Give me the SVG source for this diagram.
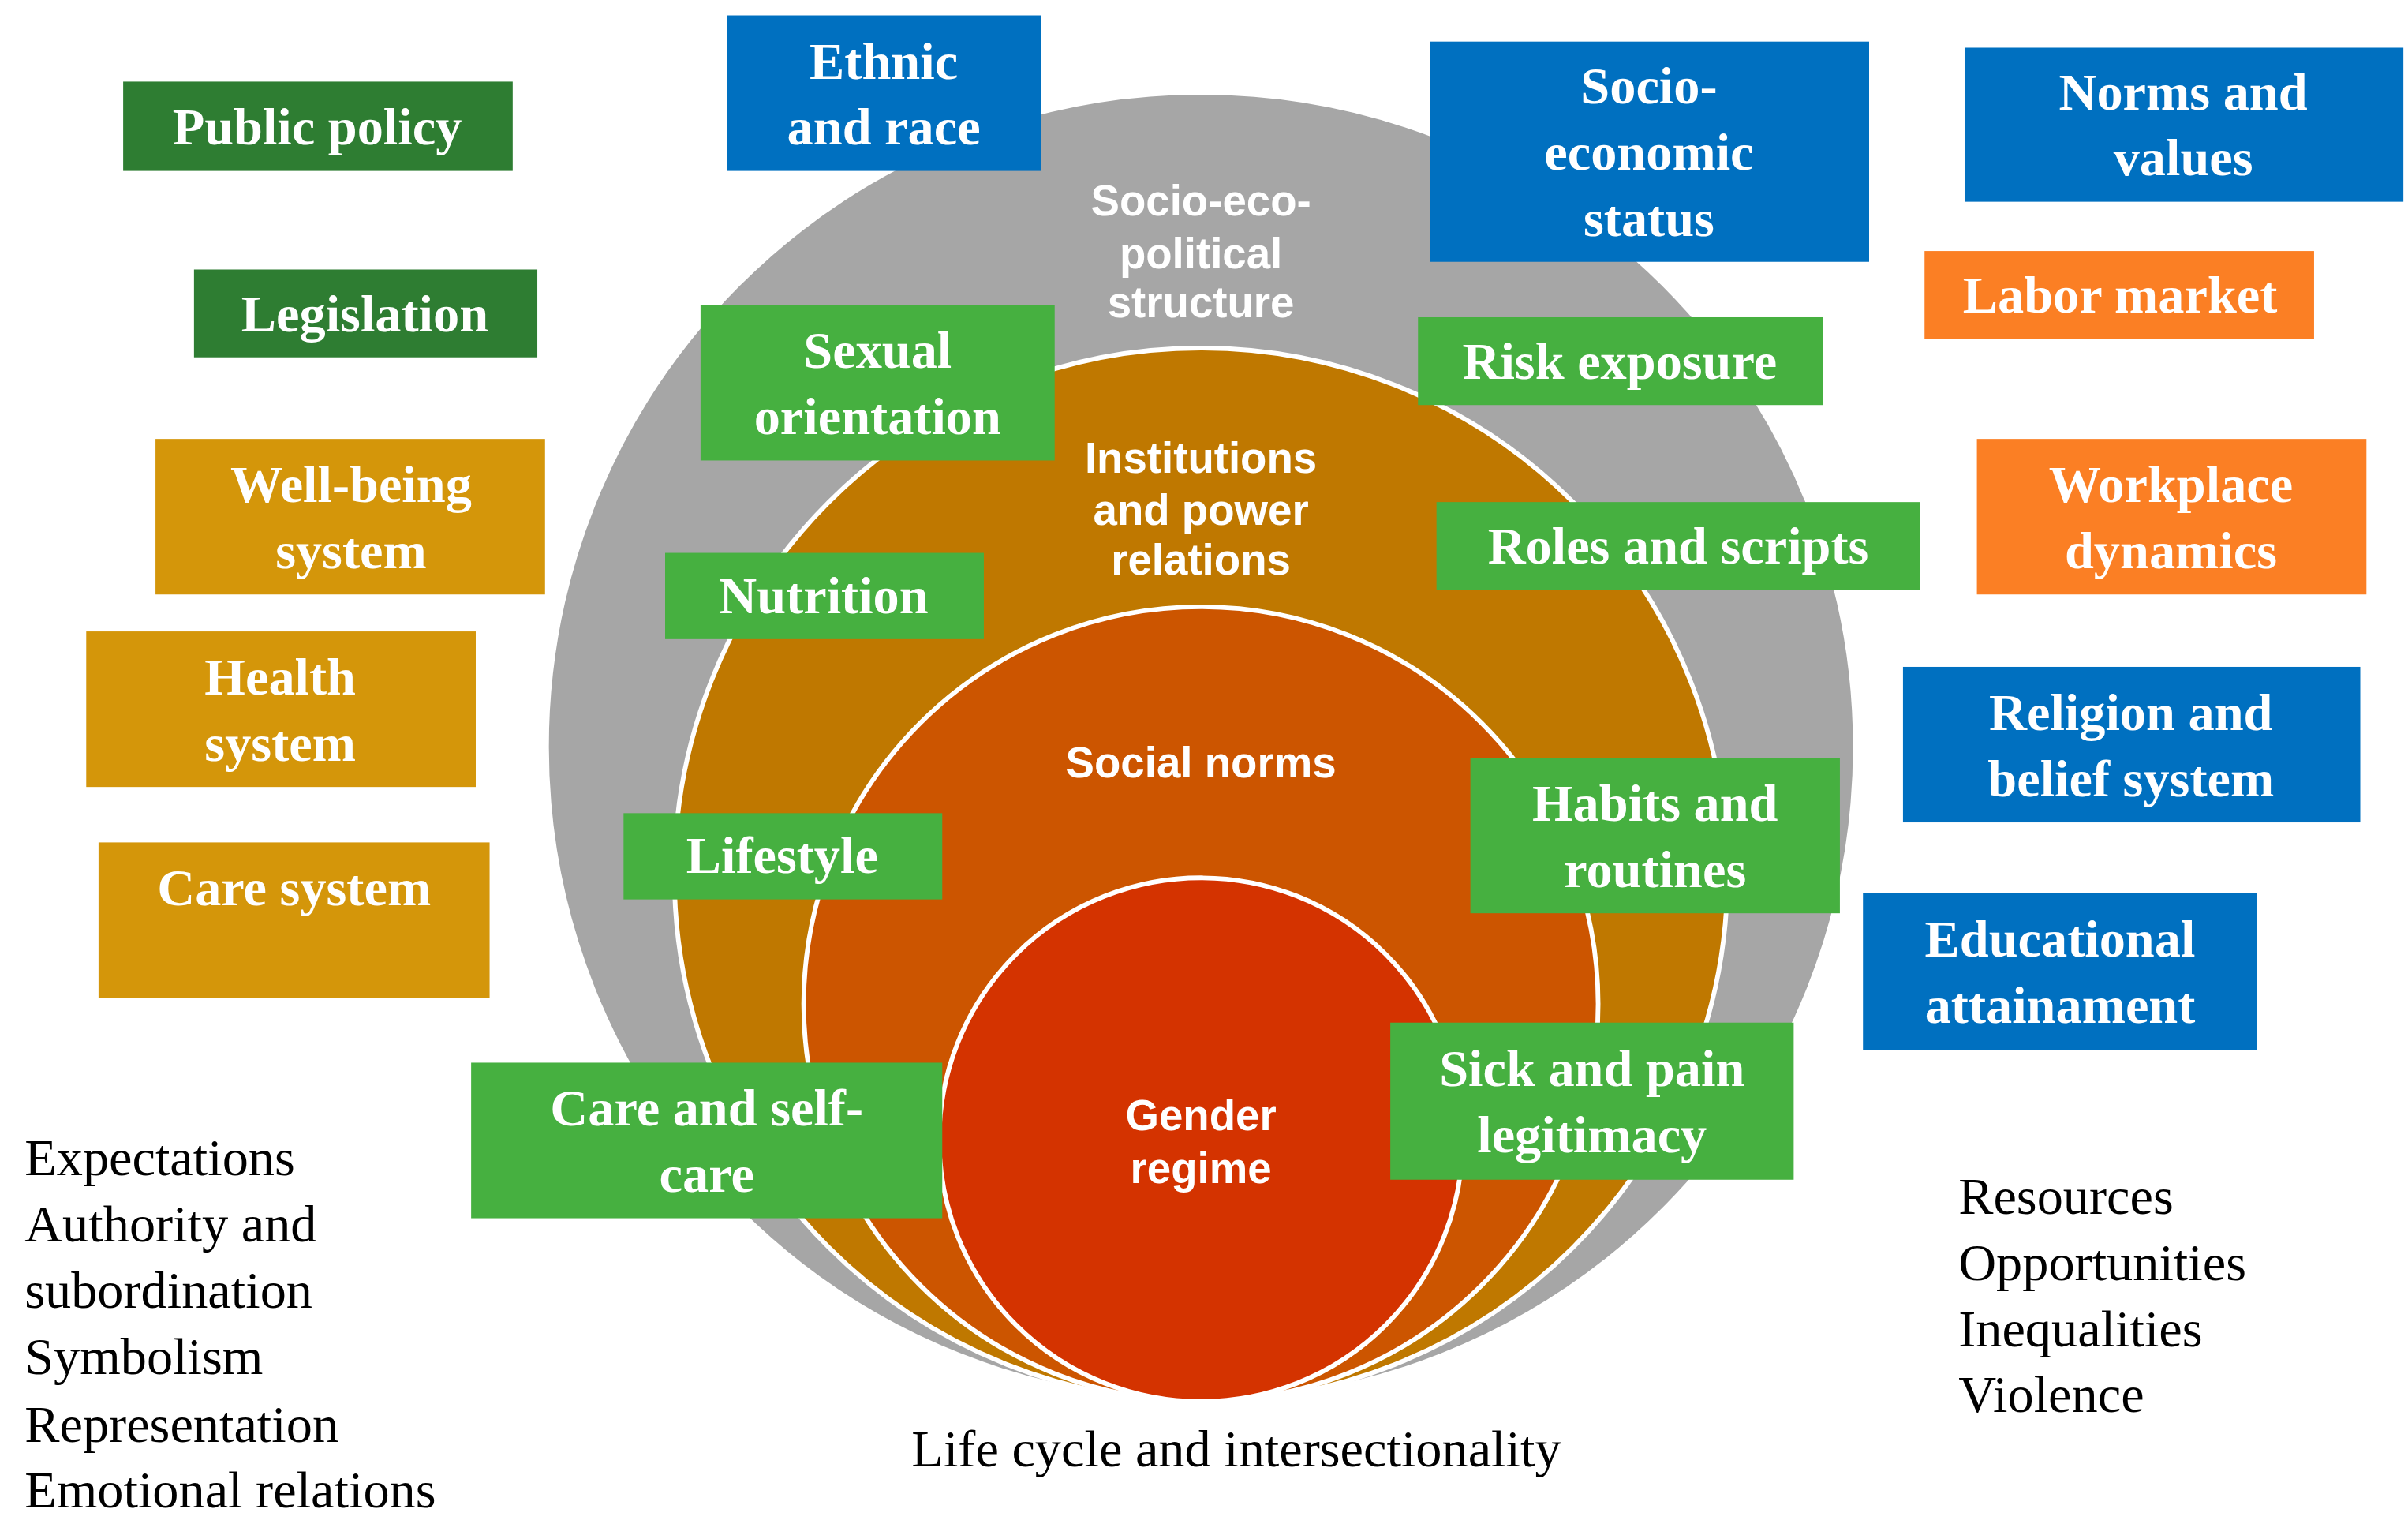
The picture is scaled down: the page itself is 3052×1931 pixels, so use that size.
<svg xmlns="http://www.w3.org/2000/svg" width="3052" height="1931" viewBox="0 0 3052 1931">
<style>
.bx text{font-family:"Liberation Serif",serif;font-weight:bold;font-size:34px;fill:#fff;text-anchor:middle}
.cl{font-family:"Liberation Sans",Arial,sans-serif;font-weight:bold;font-size:28px;fill:#fff;text-anchor:middle}
.pl{font-family:"Liberation Serif",serif;font-size:34px;fill:#000}
.dg{fill:#2e7d32}.gd{fill:#d4960a}.bl{fill:#0070c0}.or{fill:#fb7f24}.gr{fill:#46b040}
.ring{stroke:#fff;stroke-width:3}
</style>
<rect width="3052" height="1931" fill="#fff"/>
<g transform="scale(1.9514)">
<g id="rings">
<circle class="ring" cx="780" cy="485" r="425" fill="#a6a6a6"/>
<circle class="ring" cx="780" cy="568" r="342" fill="#bf7800"/>
<circle class="ring" cx="780" cy="652" r="258" fill="#cc5500"/>
<circle class="ring" cx="780" cy="740" r="170" fill="#d43300"/>
<text class="cl" x="780" y="140">Socio-eco-</text><text class="cl" x="780" y="174">political</text><text class="cl" x="780" y="206">structure</text>
<text class="cl" x="780" y="307">Institutions</text><text class="cl" x="780" y="341">and power</text><text class="cl" x="780" y="373">relations</text>
<text class="cl" x="780" y="505">Social norms</text>
<text class="cl" x="780" y="734">Gender</text><text class="cl" x="780" y="768">regime</text>
</g>
<g id="connectors"></g>
<g class="bx">
<g id="public-policy"><rect class="dg" x="80" y="53" width="253" height="58"/><text x="206" y="94">Public policy</text></g>
<g id="legislation"><rect class="dg" x="126" y="175" width="223" height="57"/><text x="237" y="215">Legislation</text></g>
<g id="wellbeing"><rect class="gd" x="101" y="285" width="253" height="101"/><text x="228" y="326">Well-being</text><text x="228" y="369">system</text></g>
<g id="health"><rect class="gd" x="56" y="410" width="253" height="101"/><text x="182" y="451">Health</text><text x="182" y="494">system</text></g>
<g id="care-system"><rect class="gd" x="64" y="547" width="254" height="101"/><text x="191" y="588">Care system</text></g>
<g id="ethnic"><rect class="bl" x="472" y="10" width="204" height="101"/><text x="574" y="51">Ethnic</text><text x="574" y="94">and race</text></g>
<g id="ses"><rect class="bl" x="929" y="27" width="285" height="143"/><text x="1071" y="67">Socio-</text><text x="1071" y="110">economic</text><text x="1071" y="153">status</text></g>
<g id="norms"><rect class="bl" x="1276" y="31" width="285" height="100"/><text x="1418" y="71">Norms and</text><text x="1418" y="114">values</text></g>
<g id="labor"><rect class="or" x="1250" y="163" width="253" height="57"/><text x="1377" y="203">Labor market</text></g>
<g id="workplace"><rect class="or" x="1284" y="285" width="253" height="101"/><text x="1410" y="326">Workplace</text><text x="1410" y="369">dynamics</text></g>
<g id="religion"><rect class="bl" x="1236" y="433" width="297" height="101"/><text x="1384" y="474">Religion and</text><text x="1384" y="517">belief system</text></g>
<g id="education"><rect class="bl" x="1210" y="580" width="256" height="102"/><text x="1338" y="621">Educational</text><text x="1338" y="664">attainament</text></g>
<g id="sexual"><rect class="gr" x="455" y="198" width="230" height="101"/><text x="570" y="239">Sexual</text><text x="570" y="282">orientation</text></g>
<g id="risk"><rect class="gr" x="921" y="206" width="263" height="57"/><text x="1052" y="246">Risk exposure</text></g>
<g id="roles"><rect class="gr" x="933" y="326" width="314" height="57"/><text x="1090" y="366">Roles and scripts</text></g>
<g id="nutrition"><rect class="gr" x="432" y="359" width="207" height="56"/><text x="535" y="398">Nutrition</text></g>
<g id="habits"><rect class="gr" x="955" y="492" width="240" height="101"/><text x="1075" y="533">Habits and</text><text x="1075" y="576">routines</text></g>
<g id="lifestyle"><rect class="gr" x="405" y="528" width="207" height="56"/><text x="508" y="567">Lifestyle</text></g>
<g id="sick"><rect class="gr" x="903" y="664" width="262" height="102"/><text x="1034" y="705">Sick and pain</text><text x="1034" y="748">legitimacy</text></g>
<g id="careself"><rect class="gr" x="306" y="690" width="306" height="101"/><text x="459" y="731">Care and self-</text><text x="459" y="774">care</text></g>
</g>
<g id="labels">
<text class="pl" x="803" y="952" text-anchor="middle">Life cycle and intersectionality</text>
<text class="pl" x="16" y="763">Expectations</text><text class="pl" x="16" y="806">Authority and</text><text class="pl" x="16" y="849">subordination</text><text class="pl" x="16" y="892">Symbolism</text><text class="pl" x="16" y="936">Representation</text><text class="pl" x="16" y="979">Emotional relations</text>
<text class="pl" x="1272" y="788">Resources</text><text class="pl" x="1272" y="831">Opportunities</text><text class="pl" x="1272" y="874">Inequalities</text><text class="pl" x="1272" y="917">Violence</text>
</g>
</g>
</svg>
